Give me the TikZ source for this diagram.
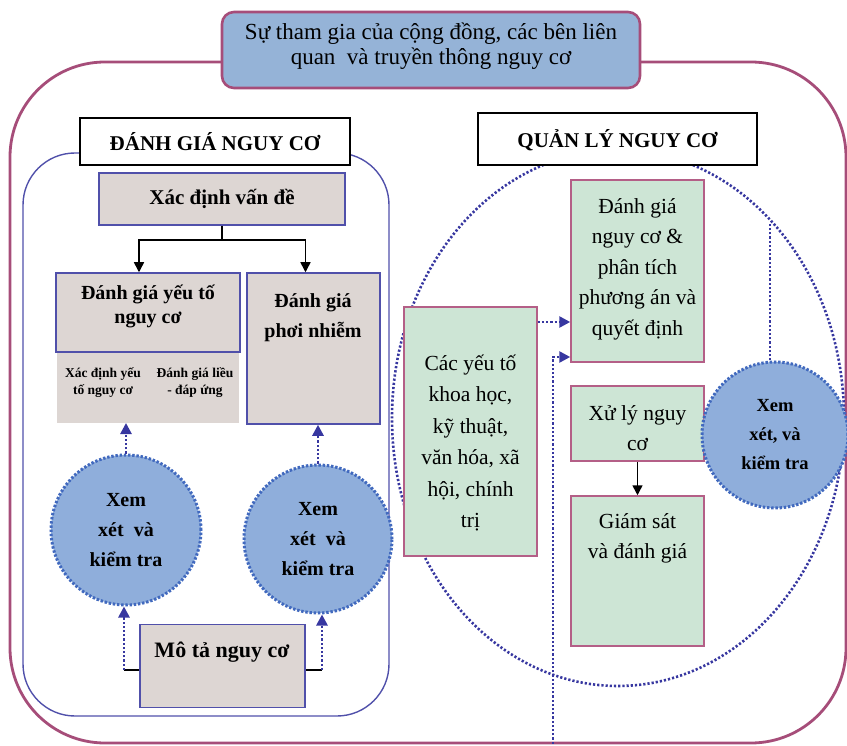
\documentclass[tikz,border=0pt]{standalone}
\usepackage{fontspec}
\setmainfont{Liberation Serif}
\usetikzlibrary{arrows.meta,calc}
\definecolor{pinkline}{RGB}{166,77,121}
\definecolor{titlefill}{RGB}{149,179,215}
\definecolor{bluerim}{RGB}{80,80,170}
\definecolor{grayfill}{RGB}{221,214,211}
\definecolor{greenfill}{RGB}{205,229,213}
\definecolor{greenrim}{RGB}{180,95,135}
\definecolor{dotblue}{RGB}{55,55,160}
\definecolor{circfill}{RGB}{143,174,219}
\definecolor{circrim}{RGB}{65,105,190}
\newcommand\myfs[2]{\fontsize{#1}{#2}\selectfont}
\tikzset{
  titlebox/.style={draw=pinkline, line width=2.6pt, fill=titlefill, rounded corners=12pt, inner sep=0pt},
  headbox/.style={draw=black, line width=1.5pt, fill=white, inner sep=0pt},
  graybox/.style={draw=bluerim, line width=1.5pt, fill=grayfill, inner sep=0pt},
  greenbox/.style={draw=greenrim, line width=1.5pt, fill=greenfill, inner sep=0pt},
  revcircle/.style={circle, draw=circrim, fill=circfill, line width=3pt, dash pattern=on 2.4pt off 1.8pt, inner sep=0pt, align=center, font=\bfseries\myfs{20}{30}},
  dotline/.style={draw=dotblue, line width=2.6pt, dash pattern=on 2.2pt off 2pt},
  dotarrow/.style={dotline, -{Triangle[length=11pt,width=11pt]}},
  blackarrow/.style={draw=black, line width=1.5pt, -{Triangle[length=10pt,width=10pt]}},
  txt/.style={align=center, inner sep=0pt},
}
\begin{document}
\begin{tikzpicture}[x=1pt,y=-1pt]
\useasboundingbox (0,0) rectangle (847,746);
% outer frame
\draw[pinkline, line width=2.8pt, rounded corners=95pt] (10,62) rectangle (846,743);
% title
\node[titlebox, minimum width=418pt, minimum height=76pt] (title) at (431,50) {};
\node[txt, font=\myfs{23}{25}] (ttitle) at (431,46) {Sự tham gia của cộng đồng, các bên liên\\quan \ và truyền thông nguy cơ};

% ---------- left: risk assessment ----------
\draw[bluerim, line width=1.4pt, rounded corners=52pt] (23,153) rectangle (389,716);
\node[headbox, minimum width=270pt, minimum height=47pt] (h1) at (215,141.5) {};
\node[txt, font=\bfseries\myfs{21}{25}] (th1) at (215,142) {ĐÁNH GIÁ NGUY CƠ};

\node[graybox, minimum width=246pt, minimum height=52pt] (xd) at (222,199) {};
\node[txt, font=\bfseries\myfs{21}{25}] (txd) at (222,199) {Xác định vấn đề};

\fill[grayfill] (57,350) rectangle (239,423);
\coordinate (dgext) at (148,423);
\node[graybox, minimum width=184pt, minimum height=79pt] (dgyt) at (148,312.5) {};
\node[txt, font=\bfseries\myfs{20}{24}] (tdgyt) at (148,306) {Đánh giá yếu tố\\nguy cơ};
\node[txt, font=\bfseries\myfs{13.5}{17}] (tsub1) at (103,383) {Xác định yếu\\tố nguy cơ};
\node[txt, font=\bfseries\myfs{13.5}{17}] (tsub2) at (195,383) {Đánh giá liều\\- đáp ứng};

\node[graybox, minimum width=133pt, minimum height=151pt] (pn) at (313.5,348.5) {};
\node[txt, font=\bfseries\myfs{20}{30}] (tpn) at (313,318) {Đánh giá\\phơi nhiễm};

\coordinate (j) at (222,240);
\draw[line width=1.5pt] (xd.south) -- (j);
\draw[blackarrow] (j) -| ([xshift=-9pt]dgyt.north);
\draw[blackarrow] (j) -| ([xshift=-8pt]pn.north);

\node[revcircle, minimum size=150pt] (c1) at (126,530) {Xem\\xét \ và\\kiểm tra};
\node[revcircle, minimum size=148pt] (c2) at (318,539) {Xem\\xét \ và\\kiểm tra};
\draw[dotarrow] (c1.north) -- (c1.north |- dgext);
\draw[dotarrow] (c2.north) -- (c2.north |- pn.south);

\node[graybox, minimum width=165pt, minimum height=83pt] (mota) at (222.5,666) {};
\node[txt, font=\bfseries\myfs{22}{25}] (tmota) at (222,652) {Mô tả nguy cơ};
\coordinate (ml) at (124,670);
\coordinate (mr) at (322,670);
\draw[line width=1.5pt] (mota.west |- ml) -- (ml);
\draw[line width=1.5pt] (mota.east |- mr) -- (mr);
\draw[dotarrow] (ml) -- (ml |- c1.south);
\draw[dotarrow] (mr) -- (mr |- c2.south);

% ---------- right: risk management ----------
\draw[dotline] (618,418) ellipse [x radius=226, y radius=268];
\node[headbox, minimum width=279pt, minimum height=52pt] (h2) at (617.5,139) {};
\node[txt, font=\bfseries\myfs{21}{25}] (th2) at (617.5,140) {QUẢN LÝ NGUY CƠ};

\coordinate (bot) at (553,748);
\coordinate (b2) at (553,357);
\coordinate (a1) at (0,322);
\node[greenbox, minimum width=133pt, minimum height=182pt] (dg) at (637.5,271) {};
\node[txt, font=\myfs{21.5}{30.5}] (tdg) at (637.5,269) {Đánh giá\\nguy cơ \&\\phân tích\\phương án và\\quyết định};

\node[greenbox, minimum width=133pt, minimum height=249pt] (sci) at (470.5,431.5) {};
\node[txt, font=\myfs{21.5}{31.4}] (tsci) at (470.5,443) {Các yếu tố\\khoa học,\\kỹ thuật,\\văn hóa, xã\\hội, chính\\trị};

\node[greenbox, minimum width=133pt, minimum height=75pt] (xl) at (637.5,423.5) {};
\node[txt, font=\myfs{21.5}{30}] (txl) at (637.5,428) {Xử lý nguy\\cơ};

\node[greenbox, minimum width=133pt, minimum height=150pt] (gs) at (637.5,571) {};
\node[txt, font=\myfs{21.5}{30}] (tgs) at (637.5,538) {Giám sát\\và đánh giá};

\draw[blackarrow] (xl.south) -- (gs.north);
\draw[dotarrow] (sci.east |- a1) -- (dg.west |- a1);
\draw[dotarrow] (bot) -- (b2) -- (dg.west |- b2);

\node[revcircle, minimum size=146pt, font=\bfseries\myfs{18.5}{29}] (c3) at (775,435) {Xem\\xét, và\\kiểm tra};
\coordinate (etop) at (770,222);
\draw[dotline] ([xshift=-5pt]c3.north) -- ([xshift=-5pt]c3.north |- etop);
\end{tikzpicture}
\end{document}
